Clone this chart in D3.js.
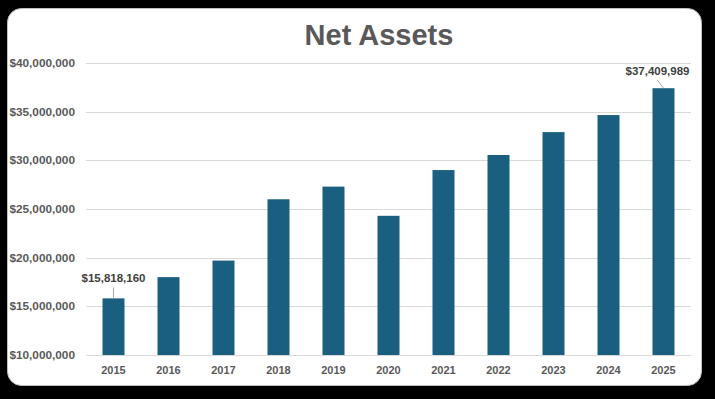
<!DOCTYPE html>
<html>
<head>
<meta charset="utf-8">
<script src="https://cdn.jsdelivr.net/npm/d3@7"></script>
<style>
  html, body { margin: 0; padding: 0; background: #000; }
  svg { display: block; }
</style>
</head>
<body>
<div id="chart"></div>
<script>
var years = ["2015","2016","2017","2018","2019","2020","2021","2022","2023","2024","2025"];
var netAssets = [15818160, 18000000, 19700000, 26000000, 27300000, 24300000, 29000000, 30550000, 32900000, 34650000, 37409989];
var yTicks = [10000000, 15000000, 20000000, 25000000, 30000000, 35000000, 40000000];
var labelled = ["2015", "2025"];

var width = 715, height = 399;
var margin = {top: 63, right: 24, bottom: 44, left: 86};

var svg = d3.select("#chart").append("svg")
  .attr("width", width)
  .attr("height", height);

// card
svg.append("rect")
  .attr("x", 7.5).attr("y", 8.5)
  .attr("width", 694).attr("height", 377)
  .attr("rx", 14).attr("ry", 14)
  .style("fill", "#fff")
  .style("stroke", "#bfbfbf")
  .style("stroke-width", 1);

svg.append("text")
  .attr("x", 379).attr("y", 45)
  .attr("text-anchor", "middle")
  .style("font-family", "'Liberation Sans', Arial, sans-serif")
  .style("font-weight", "bold")
  .style("font-size", "29px")
  .style("fill", "#595959")
  .text("Net Assets");

var x = d3.scaleBand()
  .domain(years)
  .range([margin.left, width - margin.right])
  .paddingInner(0.6)
  .paddingOuter(0.3);

var y = d3.scaleLinear()
  .domain([10000000, 40000000])
  .range([height - margin.bottom, margin.top]);

var fmt = function(v) { return "$" + d3.format(",")(v); };

// gridlines
svg.append("g").selectAll("line")
  .data(yTicks)
  .enter().append("line")
  .attr("x1", margin.left)
  .attr("x2", width - margin.right)
  .attr("y1", function(d) { return Math.round(y(d)) + 0.5; })
  .attr("y2", function(d) { return Math.round(y(d)) + 0.5; })
  .style("stroke", "#d9d9d9")
  .style("stroke-width", 1);

// y labels
svg.append("g").selectAll("text")
  .data(yTicks)
  .enter().append("text")
  .attr("x", 75)
  .attr("y", function(d) { return y(d); })
  .attr("dy", "0.35em")
  .attr("text-anchor", "end")
  .style("font-family", "'Liberation Sans', Arial, sans-serif")
  .style("font-weight", "bold")
  .style("font-size", "11.8px")
  .style("fill", "#595959")
  .text(fmt);

// bars
svg.append("g").selectAll("rect")
  .data(netAssets)
  .enter().append("rect")
  .attr("x", function(d, i) { return x(years[i]); })
  .attr("y", function(d) { return y(d); })
  .attr("width", x.bandwidth())
  .attr("height", function(d) { return y(10000000) - y(d); })
  .style("fill", "#1a5e80");

// x labels
svg.append("g").selectAll("text")
  .data(years)
  .enter().append("text")
  .attr("x", function(d) { return x(d) + x.bandwidth() / 2; })
  .attr("y", 374)
  .attr("text-anchor", "middle")
  .style("font-family", "'Liberation Sans', Arial, sans-serif")
  .style("font-weight", "bold")
  .style("font-size", "11px")
  .style("fill", "#595959")
  .text(function(d) { return d; });

// data labels with leader lines
labelled.forEach(function(yr, k) {
  var i = years.indexOf(yr);
  var cx = x(yr) + x.bandwidth() / 2;
  var top = y(netAssets[i]);
  var dx = k == 0 ? 0 : -6;
  var lift = k == 0 ? 20 : 17;
  svg.append("line")
    .attr("x1", cx + dx).attr("y1", top - lift + 9)
    .attr("x2", cx).attr("y2", top)
    .style("stroke", "#a6a6a6")
    .style("stroke-width", 1);
  svg.append("text")
    .attr("x", cx + dx)
    .attr("y", top - lift + 4)
    .attr("text-anchor", "middle")
    .style("font-family", "'Liberation Sans', Arial, sans-serif")
    .style("font-weight", "bold")
    .style("font-size", "11.5px")
    .style("fill", "#404040")
    .text(fmt(netAssets[i]));
});
</script>
</body>
</html>
